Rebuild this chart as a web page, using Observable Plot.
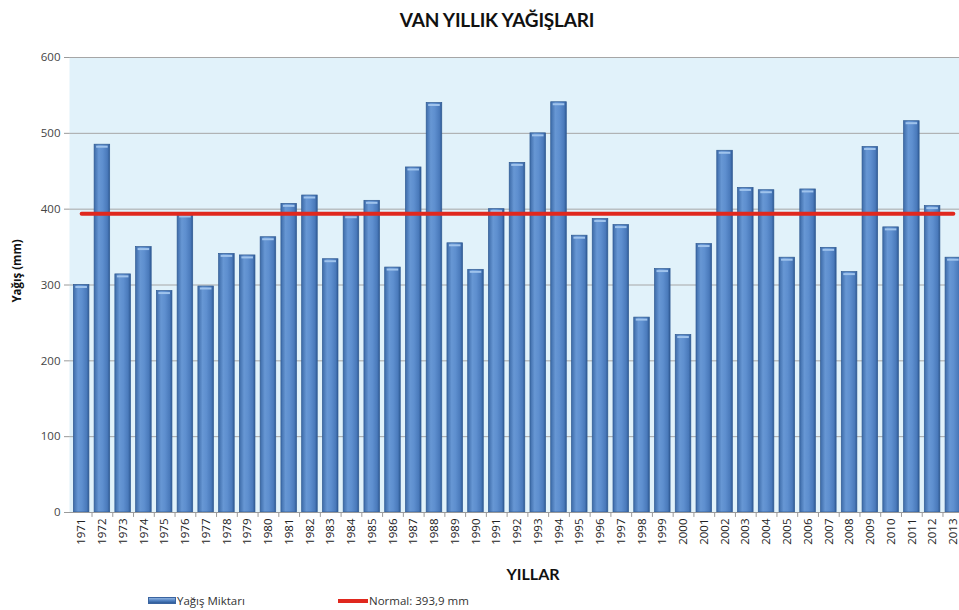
<!DOCTYPE html>
<html>
<head>
<meta charset="utf-8">
<script src="https://cdn.jsdelivr.net/npm/d3@7"></script>
<script src="https://cdn.jsdelivr.net/npm/@observablehq/plot@0.6"></script>
<style>
  html, body { margin: 0; padding: 0; background: #fff; overflow: hidden; width: 959px; height: 610px; }
  #wrap { position: relative; width: 959px; height: 610px; font-family: "Open Sans", sans-serif; overflow: hidden; }
  #chart { position: absolute; left: 0; top: 0; width: 965px; }
  #chart svg { max-width: none !important; }
  .abs { position: absolute; white-space: nowrap; color: #111; }
  #title { left: 497px; top: 19px; transform: translate(-50%, -50%); font: bold 19px Lato, "Open Sans", sans-serif; letter-spacing: -0.2px; }
  #ylab { left: 16px; top: 271px; transform: translate(-50%, -50%) rotate(-90deg); font: bold 11.5px "Open Sans", sans-serif; }
  #xlab { left: 533px; top: 573px; transform: translate(-50%, -50%); font: bold 16px Lato, "Open Sans", sans-serif; }
  .leg { top: 593px; font: 11.5px "Open Sans", sans-serif; color: #333; display: flex; align-items: center; }
  .sw1 { width: 28px; height: 7px; background: linear-gradient(#8fb3e0, #4a7bbd 60%, #2f5b96); border: 1px solid #3a64a0; box-sizing: border-box; margin-right: 1px; }
  .sw2 { width: 30px; height: 4px; background: #e0281e; margin-right: 1px; }
</style>
</head>
<body>
<div id="wrap">
  <div id="chart"></div>
  <div class="abs" id="title">VAN YILLIK YAĞIŞLARI</div>
  <div class="abs" id="ylab">Yağış (mm)</div>
  <div class="abs" id="xlab">YILLAR</div>
  <div class="abs leg" style="left:148px"><span class="sw1"></span>Yağış Miktarı</div>
  <div class="abs leg" style="left:338px"><span class="sw2"></span>Normal: 393,9 mm</div>
</div>
<script>
const years = ["1971","1972","1973","1974","1975","1976","1977","1978","1979","1980",
  "1981","1982","1983","1984","1985","1986","1987","1988","1989","1990",
  "1991","1992","1993","1994","1995","1996","1997","1998","1999","2000",
  "2001","2002","2003","2004","2005","2006","2007","2008","2009","2010",
  "2011","2012","2013"];
const rainfall = [300,485,314,350,292,393,298,341,339,363,
  407,418,334,392,411,323,455,540,355,320,
  400,461,500,541,365,387,379,257,321,234,
  354,477,428,425,336,426,349,317,482,376,
  516,404,336];
const normal = 393.9;
const yTicks = [0,100,200,300,400,500,600];

const data = years.map((y, i) => ({year: y, value: rainfall[i]}));
const step = 20.76;

const chart = Plot.plot({
  width: 965,
  height: 610,
  marginLeft: 69,
  marginRight: 0,
  marginTop: 57,
  marginBottom: 98,
  style: {fontFamily: "'Open Sans', sans-serif", background: "transparent", overflow: "visible", maxWidth: "none"},
  x: {type: "band", domain: years, paddingInner: 0.25, paddingOuter: 0.21, round: false, label: null},
  y: {domain: [0, 600], label: null},
  marks: [
    Plot.frame({fill: "#e1f2fa", stroke: "none"}),
    Plot.gridY(yTicks, {stroke: "#a6a6a6", strokeOpacity: 1, strokeWidth: 1}),
    Plot.ruleX([0], {frameAnchor: "left", stroke: "#9a9a9a"}),
    Plot.barY(data, {x: "year", y: "value", fill: "url(#barGrad)", stroke: "#2f5a92", strokeWidth: 0.7}),
    Plot.tickY(data, {x: "year", y: "value", stroke: "#9fc3ec", strokeWidth: 2, dy: 2, insetLeft: 2, insetRight: 2}),
    Plot.lineY(years, {x: d => d, y: () => normal, stroke: "#e0281e", strokeWidth: 4}),
    Plot.axisY(yTicks, {tickSize: 5, tickPadding: 4, fontSize: 11.5, color: "#444", stroke: "#9a9a9a"}),
    Plot.axisX({tickSize: 0, tickRotate: -90, tickPadding: 6, fontSize: 11.5, color: "#222"}),
    Plot.ruleY([0], {stroke: "#9a9a9a"}),
    Plot.ruleX(years, {x: d => d, y1: 0, y2: -6.5, dx: step / 2, stroke: "#9a9a9a"})
  ]
});

const svg = d3.select(chart);
const defs = svg.insert("defs", ":first-child");
const g = defs.append("linearGradient").attr("id", "barGrad").attr("x1", "0").attr("x2", "1").attr("y1", "0").attr("y2", "0");
[[0, "#3d6ba8"], [0.3, "#6797d4"], [0.55, "#5e8fcf"], [0.85, "#4a7abb"], [1, "#2f5a94"]].forEach(([o, c]) =>
  g.append("stop").attr("offset", o).attr("stop-color", c));

document.getElementById("chart").appendChild(chart);
</script>
</body>
</html>
